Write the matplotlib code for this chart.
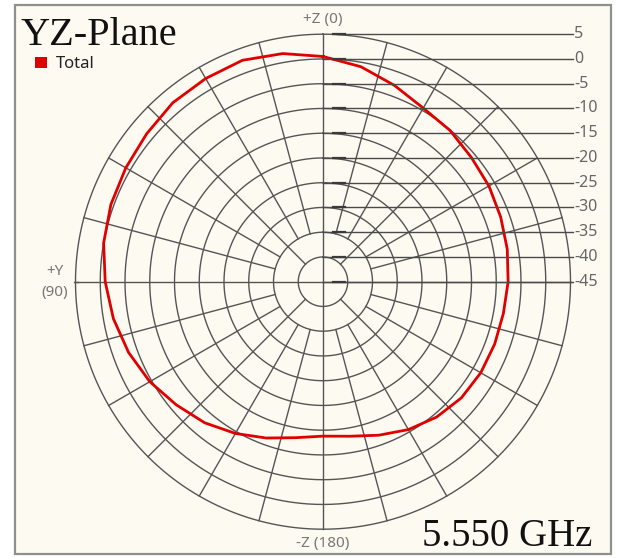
import numpy as np
import matplotlib
matplotlib.use('Agg')
import matplotlib.pyplot as plt
from matplotlib.lines import Line2D
from matplotlib.patches import Rectangle

# ---------------- data ----------------
angles_deg = [0, 10, 20, 30, 40, 50, 60, 70, 80, 90, 100, 110, 120, 130, 140, 150, 160, 170,
              180, 190, 200, 210, 220, 230, 240, 250, 260, 270, 280, 290, 300, 310, 320, 330, 340, 350, 360]
total_db = [0.5, 1.8, 2.6, 2.4, 2.2, 1.5, 1.0, 0.6, 0.0, -1.0, -2.0, -3.2, -4.6, -6.3, -7.8, -9.6, -11.4, -13.0,
            -13.8, -13.3, -12.0, -10.5, -9.3, -8.5, -8.2, -8.1, -8.0, -7.6, -7.2, -6.8, -6.3, -5.9, -5.1, -4.5, -2.8, -0.9, 0.5]

levels = [5, 0, -5, -10, -15, -20, -25, -30, -35, -40, -45]
level_labels = ['5', '0', '-5', '-10', '-15', '-20', '-25', '-30', '-35', '-40', '-45']
spoke_angles = list(range(0, 360, 15))

title_text = 'YZ-Plane'
freq_text = '5.550 GHz'
legend_label = 'Total'

# ---------------- layout ----------------
W, H, DPI = 617, 558, 100
cx, cy, R = 323, 281.7, 247.5
BG = '#FCFAF1'
GRID = '#555555'
LBL = '#777777'

fig = plt.figure(figsize=(W / DPI, H / DPI), dpi=DPI, facecolor='white')

def fx(x):
    return x / W

def fy(y):
    return 1 - y / H

frame = Rectangle((fx(15), fy(554)), (611 - 15) / W, (554 - 5) / H, transform=fig.transFigure,
                  facecolor=BG, edgecolor='#8f8f8f', lw=1.6, zorder=-10)
fig.add_artist(frame)

ax = fig.add_axes([(cx - R) / W, (H - cy - R) / H, 2 * R / W, 2 * R / H], projection='polar')
ax.set_theta_zero_location('N')
ax.set_theta_direction(1)
ax.set_ylim(levels[-1], levels[0])
ax.axis('off')

th_full = np.linspace(0, 2 * np.pi, 721)
for L in levels[:-1]:
    ax.plot(th_full, np.full_like(th_full, L), color=GRID, lw=1.0, zorder=1, clip_on=False)

for a in spoke_angles:
    if a % 90 == 0:
        r0 = levels[-1]
    elif a % 45 == 0:
        r0 = -40
    else:
        r0 = -35
    ax.plot([np.deg2rad(a)] * 2, [r0, levels[0]], color=GRID, lw=1.0, zorder=1, clip_on=False)

ax.plot(np.deg2rad(angles_deg), total_db, color='#E00000', lw=2.0, zorder=5,
        solid_joinstyle='round', clip_on=False)

# horizontal axis extends slightly beyond the outer circle on the left
pl = ax.transData.transform((np.pi / 2, levels[0]))
inv = fig.transFigure.inverted()
a0, b0 = inv.transform((pl[0] - 2, pl[1]))
a1, b1 = inv.transform((pl[0] + 2, pl[1]))
fig.add_artist(Line2D([a0, a1], [b0, b1], color=GRID, lw=1.0, zorder=2))

# leader lines and level labels
x_end = 573
for L, lab in zip(levels, level_labels):
    px, py = ax.transData.transform((0, L))
    xs = px if L != levels[0] else px + 14
    (a0, b0) = inv.transform((xs, py))
    (a1, b1) = inv.transform((x_end, py))
    fig.add_artist(Line2D([a0, a1], [b0, b1], color='#4a4a4a', lw=1.0, zorder=2))
    (t0, _) = inv.transform((px + 10, py))
    (t1, _) = inv.transform((px + 22, py))
    fig.add_artist(Line2D([t0, t1], [b0, b0], color='#3a3a3a', lw=1.6, zorder=2))
    fig.text(fx(574), b0, lab, ha='left', va='center', fontsize=11.5, color='#666666',
             family='Noto Sans')

# axis labels
fig.text(fx(323), fy(19), '+Z (0)', ha='center', va='center', fontsize=11, color=LBL, family='Noto Sans')
fig.text(fx(323), fy(543), '-Z (180)', ha='center', va='center', fontsize=11, color=LBL, family='Noto Sans')
fig.text(fx(55), fy(272), '+Y', ha='center', va='center', fontsize=11, color=LBL, family='Noto Sans')
fig.text(fx(55), fy(292), '(90)', ha='center', va='center', fontsize=11, color=LBL, family='Noto Sans')

# title, legend, frequency
fig.text(fx(21), fy(45), title_text, ha='left', va='baseline', fontsize=29, color='#111111',
         family='Liberation Serif')
fig.add_artist(Rectangle((fx(35), fy(68)), 12 / W, 11 / H, transform=fig.transFigure,
                         facecolor='#E00000', edgecolor='none', zorder=3))
fig.text(fx(56), fy(68), legend_label, ha='left', va='baseline', fontsize=12, color='#222222',
         family='Noto Sans')
fig.text(fx(592), fy(546), freq_text, ha='right', va='baseline', fontsize=28, color='#111111',
         family='Liberation Serif')

fig.savefig('out.png', dpi=DPI, facecolor='white')
